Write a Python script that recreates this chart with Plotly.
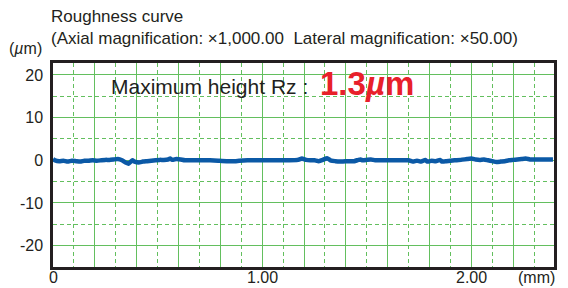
import plotly.graph_objects as go

# ---- data ----
x_mm = [0.00, 0.01, 0.03, 0.05, 0.07, 0.09, 0.11, 0.13, 0.15, 0.17, 0.19, 0.21, 0.23, 0.25,
        0.27, 0.29, 0.31, 0.33, 0.35, 0.36, 0.37, 0.38, 0.39, 0.41, 0.43, 0.45, 0.47, 0.49,
        0.51, 0.53, 0.55, 0.56, 0.57, 0.59, 0.61, 0.63, 0.67, 0.71, 0.75, 0.79, 0.83, 0.87,
        0.89, 0.93, 0.97, 1.01, 1.05, 1.09, 1.13, 1.17, 1.19, 1.21, 1.23, 1.25, 1.27, 1.29,
        1.31, 1.33, 1.35, 1.38, 1.41, 1.44, 1.46, 1.47, 1.48, 1.50, 1.52, 1.54, 1.58, 1.62,
        1.66, 1.70, 1.72, 1.74, 1.76, 1.78, 1.79, 1.81, 1.83, 1.85, 1.86, 1.88, 1.90, 1.92,
        1.95, 1.98, 2.00, 2.02, 2.04, 2.06, 2.08, 2.10, 2.12, 2.14, 2.16, 2.18, 2.20, 2.22,
        2.24, 2.26, 2.28, 2.30, 2.34, 2.39]
height_um = [0.3, 0.0, -0.2, -0.1, -0.3, -0.1, -0.2, -0.3, -0.1, -0.1, 0.0, -0.1, 0.0, 0.1,
             0.1, 0.2, 0.3, 0.0, -0.6, -0.8, -0.4, 0.0, -0.3, -0.5, -0.3, -0.2, -0.1, 0.0,
             0.1, 0.1, 0.2, 0.4, 0.1, 0.3, 0.2, 0.0, 0.0, 0.0, 0.0, -0.1, -0.2, -0.2,
             -0.1, 0.0, 0.0, 0.0, 0.0, 0.0, 0.0, 0.1, 0.4, 0.1, 0.0, 0.0, -0.2, 0.1,
             0.5, -0.1, -0.2, -0.3, -0.2, -0.2, 0.1, 0.2, 0.0, 0.1, 0.2, 0.0, 0.0, 0.0,
             0.0, 0.0, -0.3, -0.1, -0.3, 0.1, -0.3, -0.1, -0.2, 0.1, -0.3, -0.2, -0.1, 0.0,
             0.1, 0.3, 0.4, 0.2, 0.1, 0.2, 0.0, -0.2, -0.4, -0.3, -0.2, 0.0, 0.1, 0.2,
             0.3, 0.4, 0.2, 0.2, 0.2, 0.2]

x_gridvals = [0.0, 0.2, 0.4, 0.6, 0.8, 1.0, 1.2, 1.4, 1.6, 1.8, 2.0, 2.2]
x_labelvals = [0.0, 1.0, 2.0]
x_labeltext = ["0", "1.00", "2.00"]
y_tickvals = [-20, -10, 0, 10, 20]
y_ticktext = ["-20", "-10", "0", "10", "20"]

title_line1 = "Roughness curve"
title_line2 = "(Axial magnification: \u00d71,000.00  Lateral magnification: \u00d750.00)"
rz_label = "Maximum height Rz :"
rz_value = "<b>1.3<i>\u00b5</i>m</b>"

# ---- layout geometry (pixels, in screenshot coordinates) ----
OFF = 8  # default page body margin
W, H = 568 - OFF, 288 - OFF
L, R, T, B = 53 - OFF, 554 - OFF, 63 - OFF, 267 - OFF

def px(x):
    return (x - OFF - L) / (R - L)

def py(y):
    return (B - (y - OFF)) / (B - T)

FONT = "Liberation Sans, Arial, sans-serif"
TXT = "#231f20"
GRID = "#63bf5e"

fig = go.Figure()
fig.add_trace(go.Scatter(x=x_mm, y=height_um, mode="lines",
                         line=dict(color="#0b59a6", width=4.5, shape="spline", smoothing=0.4),
                         hoverinfo="skip", showlegend=False))

fig.update_layout(
    width=W, height=H,
    margin=dict(l=L, r=W - R, t=T, b=H - B, pad=0, autoexpand=False),
    paper_bgcolor="white", plot_bgcolor="white",
    font=dict(family=FONT, size=16, color=TXT),
    showlegend=False,
)

fig.update_xaxes(
    range=[0, 2.395], tickmode="array", tickvals=x_gridvals, showticklabels=False,
    showgrid=True, gridcolor=GRID, gridwidth=1.3,
    minor=dict(tick0=0.1, dtick=0.2, showgrid=True, gridcolor=GRID, gridwidth=1,
               griddash="4px,3px"),
    showline=True, mirror=True, linecolor="#231f20", linewidth=2.5,
    ticks="", zeroline=False, automargin=False,
)
fig.update_yaxes(
    range=[-25, 22.8], tickmode="array", tickvals=y_tickvals, ticktext=y_ticktext,
    showgrid=True, gridcolor=GRID, gridwidth=1.3,
    minor=dict(tick0=5, dtick=10, showgrid=True, gridcolor=GRID, gridwidth=1,
               griddash="4px,3px"),
    showline=True, mirror=True, linecolor="#231f20", linewidth=2.5,
    ticks="", zeroline=False, automargin=False, ticklabelstandoff=4,
    tickfont=dict(size=16, color=TXT),
)

ann = [
    dict(text=title_line1, x=px(50), y=py(17), xanchor="left", yanchor="middle",
         font=dict(size=17, color=TXT)),
    dict(text=title_line2, x=px(50), y=py(39), xanchor="left", yanchor="middle",
         font=dict(size=17, color=TXT)),
    dict(text="(<i>\u00b5</i>m)", x=px(8), y=py(48), xanchor="left", yanchor="middle",
         font=dict(size=16, color=TXT)),
    dict(text="(mm)", x=px(556), y=py(277), xanchor="right", yanchor="middle",
         font=dict(size=16, color=TXT)),
    dict(text=rz_label, x=px(110), y=py(86), xanchor="left", yanchor="middle",
         font=dict(size=21, color=TXT)),
    dict(text=rz_value, x=px(319), y=py(83), xanchor="left", yanchor="middle",
         font=dict(size=33, color="#e8202a")),
]
for a in ann:
    a.update(xref="paper", yref="paper", showarrow=False, borderpad=0)
for v, t in zip(x_labelvals, x_labeltext):
    ann.append(dict(text=t, x=v, xref="x", y=py(277), yref="paper", xanchor="center",
                    yanchor="middle", showarrow=False, borderpad=0,
                    font=dict(size=16, color=TXT)))
fig.update_layout(annotations=ann)

fig.write_html("out.html")
